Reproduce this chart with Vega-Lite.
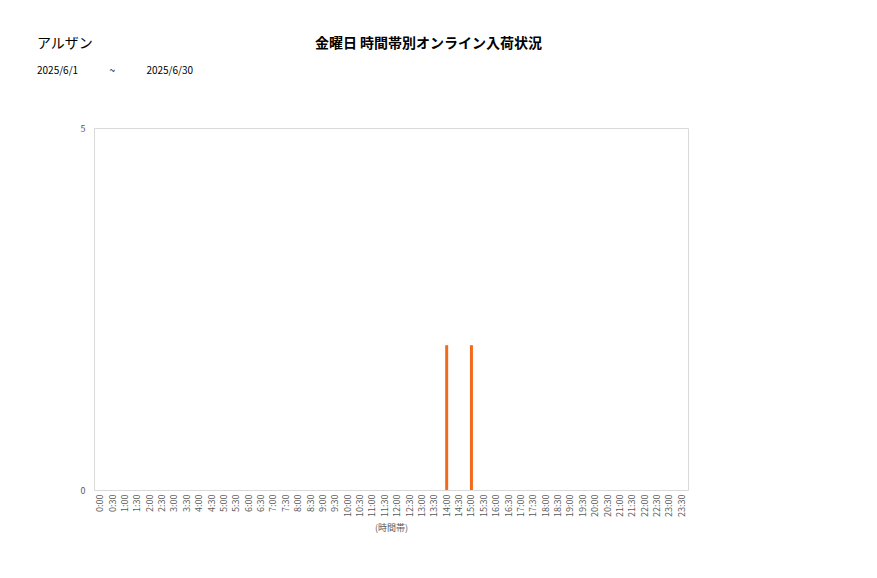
{
  "$schema": "https://vega.github.io/schema/vega-lite/v6.json",
  "width": 594,
  "height": 362,
  "autosize": "none",
  "padding": {"left": 94, "top": 128, "right": 189, "bottom": 88},
  "title": {
    "text": "アルザン",
    "subtitle": "\u00a0\u00a0\u00a02025/6/1\u00a0\u00a0\u00a0\u00a0\u00a0\u00a0\u00a0\u00a0\u00a0\u00a0\u00a0\u00a0\u00a0\u00a0~\u00a0\u00a0\u00a0\u00a0\u00a0\u00a0\u00a0\u00a0\u00a0\u00a0\u00a0\u00a0\u00a0\u00a02025/6/30",
    "anchor": "start",
    "frame": "group",
    "dx": -57,
    "offset": -40,
    "font": "Noto Sans CJK JP",
    "fontSize": 14,
    "fontWeight": "normal",
    "color": "#000000",
    "subtitleFont": "Noto Sans CJK JP",
    "subtitleFontSize": 10,
    "subtitleColor": "#000000",
    "subtitlePadding": 15
  },
  "data": {
    "values": [
      {"time": "0:00", "count": 0}, {"time": "0:30", "count": 0},
      {"time": "1:00", "count": 0}, {"time": "1:30", "count": 0},
      {"time": "2:00", "count": 0}, {"time": "2:30", "count": 0},
      {"time": "3:00", "count": 0}, {"time": "3:30", "count": 0},
      {"time": "4:00", "count": 0}, {"time": "4:30", "count": 0},
      {"time": "5:00", "count": 0}, {"time": "5:30", "count": 0},
      {"time": "6:00", "count": 0}, {"time": "6:30", "count": 0},
      {"time": "7:00", "count": 0}, {"time": "7:30", "count": 0},
      {"time": "8:00", "count": 0}, {"time": "8:30", "count": 0},
      {"time": "9:00", "count": 0}, {"time": "9:30", "count": 0},
      {"time": "10:00", "count": 0}, {"time": "10:30", "count": 0},
      {"time": "11:00", "count": 0}, {"time": "11:30", "count": 0},
      {"time": "12:00", "count": 0}, {"time": "12:30", "count": 0},
      {"time": "13:00", "count": 0}, {"time": "13:30", "count": 0},
      {"time": "14:00", "count": 2}, {"time": "14:30", "count": 0},
      {"time": "15:00", "count": 2}, {"time": "15:30", "count": 0},
      {"time": "16:00", "count": 0}, {"time": "16:30", "count": 0},
      {"time": "17:00", "count": 0}, {"time": "17:30", "count": 0},
      {"time": "18:00", "count": 0}, {"time": "18:30", "count": 0},
      {"time": "19:00", "count": 0}, {"time": "19:30", "count": 0},
      {"time": "20:00", "count": 0}, {"time": "20:30", "count": 0},
      {"time": "21:00", "count": 0}, {"time": "21:30", "count": 0},
      {"time": "22:00", "count": 0}, {"time": "22:30", "count": 0},
      {"time": "23:00", "count": 0}, {"time": "23:30", "count": 0}
    ]
  },
  "layer": [
    {
      "mark": {"type": "bar", "width": 3, "color": "#f26b1d"},
      "encoding": {
        "x": {
          "field": "time",
          "type": "nominal",
          "sort": null,
          "scale": {"paddingInner": 0, "paddingOuter": 0},
          "axis": {
            "orient": "bottom",
            "labelAngle": -90,
            "labelFont": "Noto Sans CJK JP",
            "labelFontSize": 9,
            "labelColor": "#595959",
            "labelPadding": 4,
            "ticks": false,
            "domain": false,
            "title": "(時間帯)",
            "titleFont": "Noto Sans CJK JP",
            "titleFontSize": 9,
            "titleFontWeight": "normal",
            "titleColor": "#595959",
            "titlePadding": 7
          }
        },
        "y": {
          "field": "count",
          "type": "quantitative",
          "scale": {"domain": [0, 5]},
          "axis": {
            "values": [0, 5],
            "grid": false,
            "ticks": false,
            "domain": false,
            "labelFont": "Noto Sans CJK JP",
            "labelFontSize": 9,
            "labelColor": "#595959",
            "labelPadding": 9,
            "title": null
          }
        }
      }
    },
    {
      "mark": {"type": "bar", "opacity": 0},
      "encoding": {
        "x": {
          "field": "time",
          "type": "nominal",
          "sort": null,
          "axis": {
            "orient": "top",
            "labels": false,
            "ticks": false,
            "domain": false,
            "title": "金曜日 時間帯別オンライン入荷状況",
            "titleFont": "Noto Sans CJK JP",
            "titleFontSize": 14,
            "titleFontWeight": "bold",
            "titleColor": "#000000",
            "titleX": 334,
            "titleY": -85,
            "titleAlign": "center",
            "titleBaseline": "middle"
          }
        }
      }
    }
  ],
  "resolve": {"axis": {"x": "independent"}},
  "config": {
    "view": {"stroke": "#d9d9d9"},
    "background": "#ffffff"
  }
}
